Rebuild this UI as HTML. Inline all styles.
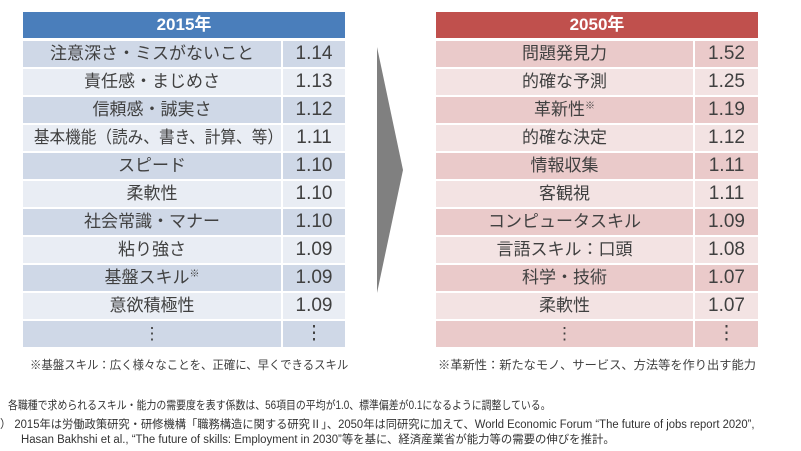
<!DOCTYPE html>
<html><head><meta charset="utf-8"><style>
body{margin:0;width:801px;height:451px;background:#fff;position:relative;overflow:hidden;font-family:"Liberation Sans","Noto Sans CJK JP",sans-serif;color:#404040}
.t{position:absolute}
.h{position:absolute;top:12px;height:26px;color:#fff;font-weight:bold;font-size:17px;line-height:26px;text-align:center}
.r{position:absolute;height:26px;line-height:26px;font-size:17px;text-align:center;white-space:nowrap}
.v{font-size:19px}
.n{font-size:12px;position:absolute;white-space:nowrap;transform-origin:0 0}
.f{font-size:11.5px;position:absolute;white-space:nowrap;color:#333;transform-origin:0 0}
sup{font-size:10px;vertical-align:6px;line-height:0}
.sq{display:inline-block;transform:scaleX(0.92)}
</style></head><body>
<div class="h" style="left:23px;width:322px;background:#4a7ebb">2015年</div>
<div class="h" style="left:436px;width:322px;background:#c0504d">2050年</div>
<div id="L"></div><div id="R"></div>
<svg class="t" style="left:0;top:0" width="801" height="451"><polygon points="377,47 403,170 377,293" fill="#808080"/></svg>
<div class="n" style="left:30px;top:356px;transform:scaleX(0.95)">※基盤スキル：広く様々なことを、正確に、早くできるスキル</div>
<div class="n" style="left:438px;top:356px;transform:scaleX(1.02)">※革新性：新たなモノ、サービス、方法等を作り出す能力</div>
<div class="f" style="left:8px;top:397px;transform:scaleX(0.86)">各職種で求められるスキル・能力の需要度を表す係数は、56項目の平均が1.0、標準偏差が0.1になるように調整している。</div>
<div class="f" style="left:0px;top:416px;transform:scaleX(0.98)">）&nbsp;2015年は労働政策研究・研修機構「職務構造に関する研究Ⅱ」、2050年は同研究に加えて、World Economic Forum “The future of jobs report 2020”,</div>
<div class="f" style="left:21px;top:431px;transform:scaleX(0.99)">Hasan Bakhshi et al., “The future of skills: Employment in 2030”等を基に、経済産業省が能力等の需要の伸びを推計。</div>
<script>
function build(id,x,div,end,c1,c2,rows){var h='';rows.forEach(function(r,i){var y=41+i*28,bg=i%2?c2:c1;
h+='<div class="r" style="left:'+x+'px;top:'+y+'px;width:'+(div-x)+'px;background:'+bg+'">'+r[0]+'</div>';
h+='<div class="r v" style="left:'+(div+2)+'px;top:'+y+'px;width:'+(end-div-2)+'px;background:'+bg+'">'+r[1]+'</div>';});
document.getElementById(id).innerHTML=h;}
build('L',23,281,345,'#cfd8e7','#e9edf4',[['注意深さ・ミスがないこと','1.14'],['責任感・まじめさ','1.13'],['信頼感・誠実さ','1.12'],['<span class="sq">基本機能（読み、書き、計算、等）</span>','1.11'],['スピード','1.10'],['柔軟性','1.10'],['社会常識・マナー','1.10'],['粘り強さ','1.09'],['基盤スキル<sup>※</sup>','1.09'],['意欲積極性','1.09'],['⋮','⋮']]);
build('R',436,693,758,'#eacaca','#f3e3e3',[['問題発見力','1.52'],['的確な予測','1.25'],['革新性<sup>※</sup>','1.19'],['的確な決定','1.12'],['情報収集','1.11'],['客観視','1.11'],['コンピュータスキル','1.09'],['言語スキル：口頭','1.08'],['科学・技術','1.07'],['柔軟性','1.07'],['⋮','⋮']]);
</script>
</body></html>
